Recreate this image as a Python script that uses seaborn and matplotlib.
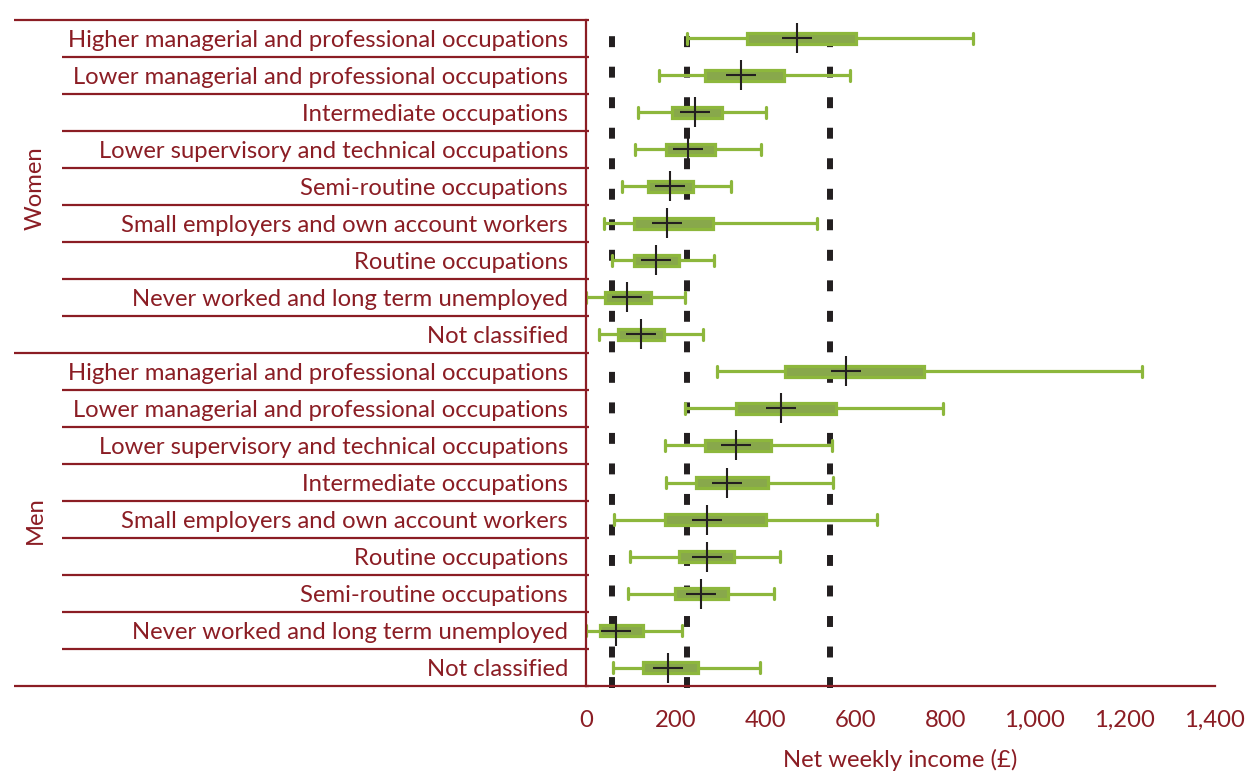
import numpy as np
import pandas as pd
import matplotlib
matplotlib.use("Agg")
import matplotlib.pyplot as plt
import matplotlib.transforms as mtransforms
import seaborn as sns

sns.set_theme(style="white")
plt.rcParams['font.family'] = ['Lato', 'DejaVu Sans']

# -------------------------------
# Data (£ per week)
# -------------------------------
women_labels = ["Higher managerial and professional occupations",
                "Lower managerial and professional occupations",
                "Intermediate occupations",
                "Lower supervisory and technical occupations",
                "Semi-routine occupations",
                "Small employers and own account workers",
                "Routine occupations",
                "Never worked and long term unemployed",
                "Not classified"]
women_min = [226, 162, 115, 110, 80, 41, 58, 0, 30]
women_q1 = [358, 266, 191, 179, 139, 107, 106, 43, 71]
women_mid = [471, 345, 243, 227, 188, 181, 157, 91, 122]
women_q3 = [602, 440, 302, 287, 239, 284, 208, 144, 173]
women_max = [862, 588, 400, 389, 322, 515, 286, 220, 260]

men_labels = ["Higher managerial and professional occupations",
              "Lower managerial and professional occupations",
              "Lower supervisory and technical occupations",
              "Intermediate occupations",
              "Small employers and own account workers",
              "Routine occupations",
              "Semi-routine occupations",
              "Never worked and long term unemployed",
              "Not classified"]
men_min = [292, 220, 177, 179, 62, 99, 93, 0, 60]
men_q1 = [444, 334, 266, 246, 177, 207, 199, 32, 128]
men_mid = [579, 434, 334, 314, 270, 269, 256, 67, 182]
men_q3 = [752, 556, 411, 405, 400, 330, 317, 128, 250]
men_max = [1239, 796, 548, 550, 648, 433, 418, 214, 388]

ref_lines = [57, 224, 543]
xticks = [0, 200, 400, 600, 800, 1000, 1200, 1400]

GREEN = "#8DB73C"
RED = "#8B1D24"
BLACK = "#231F20"
FS = 17.2

# -------------------------------
# Build long-form table: five numbers per row -> boxplot quartiles
# -------------------------------
labels = women_labels + men_labels
mins = women_min + men_min
q1s = women_q1 + men_q1
mids = women_mid + men_mid
q3s = women_q3 + men_q3
maxs = women_max + men_max
keys = [f"{i:02d} {lab}" for i, lab in enumerate(labels)]

rows = []
for k, a, b, c, d, e in zip(keys, mins, q1s, mids, q3s, maxs):
    for v in (a, b, c, d, e):
        rows.append({"row": k, "income": v})
df = pd.DataFrame(rows)
mid_df = pd.DataFrame({"pos": np.arange(len(keys)), "income": mids})

# -------------------------------
# Plot
# -------------------------------
fig = plt.figure(figsize=(12.47, 7.73), dpi=100)
ax = fig.add_axes([586 / 1247, 87 / 773, 628.5 / 1247, 666 / 773])

sns.boxplot(data=df, x="income", y="row", order=keys, orient="h",
            whis=(0, 100), width=0.3, color=GREEN, linecolor=GREEN,
            linewidth=2.3, showfliers=False, capwidths=0.32,
            medianprops={"visible": False}, ax=ax)

# dashed reference lines (end at the top dash, like the original)
for xv in ref_lines:
    ax.axvline(xv, ymin=-0.003, ymax=0.979, color=BLACK, lw=4.3,
               linestyle=(0, (1.83, 3.28)), zorder=1, clip_on=False)

sns.scatterplot(data=mid_df, x="income", y="pos", marker="+", s=470,
                color=BLACK, linewidth=1.5, zorder=6, legend=False, ax=ax)

ax.set_xlim(0, 1400)
ax.set_ylim(len(keys) - 0.5, -0.5)
ax.set_xticks(xticks)
ax.set_xticklabels([f"{t:,}" for t in xticks])
ax.set_yticks(np.arange(len(keys)))
ax.set_yticklabels(labels)
ax.tick_params(axis="y", length=0, pad=13, labelsize=FS, labelcolor=RED)
ax.tick_params(axis="x", length=6, width=1.4, color=RED, direction="out",
               pad=11, labelsize=FS, labelcolor=RED)
ax.set_xlabel("Net weekly income (£)", color=RED, fontsize=FS, labelpad=13)
ax.set_ylabel("")

sns.despine(ax=ax)
for side in ("left", "bottom"):
    ax.spines[side].set_color(RED)
    ax.spines[side].set_linewidth(1.6)

# table-style separators on the label side
trans = mtransforms.blended_transform_factory(ax.transAxes, ax.transData)
x_outer = (14 - 586) / 628.5
x_inner = (62 - 586) / 628.5
n = len(keys)
for i in range(n + 1):
    yb = i - 0.5
    x0 = x_outer if i in (0, 9, n) else x_inner
    ax.plot([x0, 0.005], [yb, yb], color=RED, lw=1.6, transform=trans,
            clip_on=False, zorder=0, solid_capstyle="butt")

fig.text(35 / 1247, 1 - 188 / 773, "Women", rotation=90, color=RED,
         fontsize=FS, ha="center", va="center")
fig.text(35 / 1247, 1 - 520 / 773, "Men", rotation=90, color=RED,
         fontsize=FS, ha="center", va="center")

fig.savefig("out.png", dpi=100)
